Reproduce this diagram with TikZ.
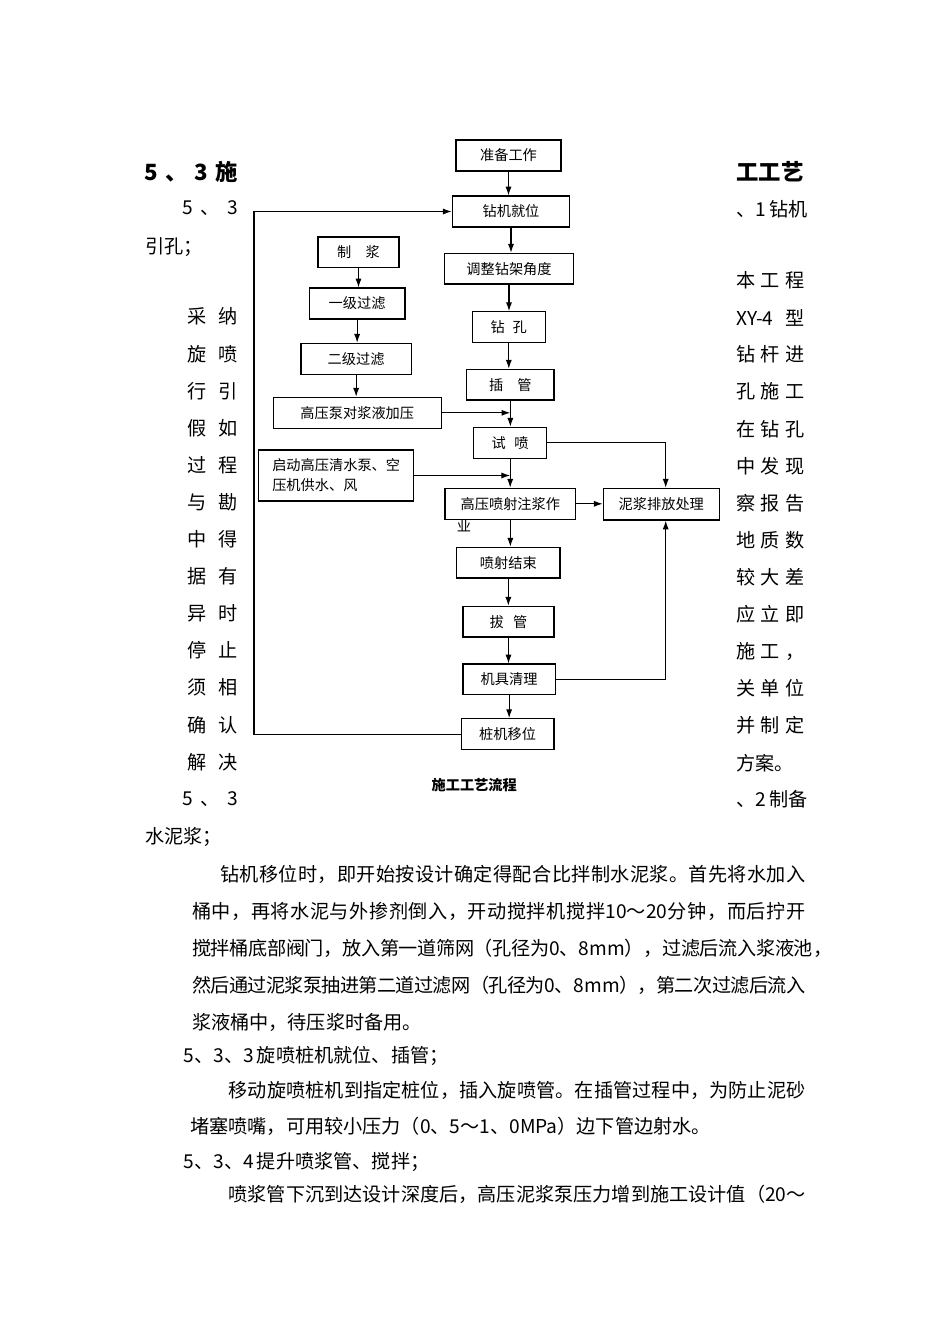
\documentclass[tikz,border=0pt]{standalone}
\usepackage{fontspec}
\setmainfont{Noto Sans CJK SC}
\usetikzlibrary{arrows.meta}
\newlength\pxu
\setlength\pxu{0.6266pt}
\newcommand\chglue{\hskip 0pt plus 1pt minus 0.6pt}
\ExplSyntaxOn
\NewDocumentCommand\jl{mm}{\makebox[#1\pxu][s]{\tl_map_inline:nn{#2}{##1\chglue}\unskip}}
\ExplSyntaxOff
\newcommand\twoc[2]{\makebox[50\pxu]{#1\hfill #2}}
\newcommand\thrc[3]{\makebox[68\pxu]{#1\hfill #2\hfill #3}}
% box: name, x1, y1, x2, y2
\newcommand\bx[5]{\node[box, minimum width={(#4-#2)*\pxu}, minimum height={(#5-#3)*\pxu}] (#1) at ({(#2+#4)/2},{(#3+#5)/2})}
\begin{document}
\begin{tikzpicture}[x=0.6266pt,y=-0.6266pt,
  box/.style={draw, line width=0.7pt, inner sep=0pt, font=\fontsize{8.9pt}{12.5pt}\selectfont},
  arr/.style={line width=0.7pt, -{Latex[length=5.5pt,width=3.8pt]}},
  body/.style={anchor=west, inner sep=0pt, font=\fontsize{12pt}{14pt}\selectfont},
  head/.style={anchor=west, inner sep=0pt, font=\fontsize{14pt}{16pt}\selectfont\bfseries},
  captext/.style={inner sep=0pt, font=\fontsize{8.9pt}{11pt}\selectfont\bfseries},
]
\useasboundingbox (0,0) rectangle (950,1344);
\fill[white] (0,0) rectangle (950,1344);

% ---------- flowchart boxes ----------
\bx{zb}{456}{140}{561}{171} {准备工作};
\bx{zj}{452.3}{196}{569.7}{227} {钻机就位};
\bx{zh}{318}{237}{399}{267.7} {制\hspace{1em}浆};
\bx{tz}{444.7}{253.3}{573.3}{284} {调整钻架角度};
\bx{yj}{309.3}{288}{405}{319} {一级过滤};
\bx{zk}{472.3}{311.7}{545.3}{342.7} {钻\hspace{0.55em}孔};
\bx{ej}{301}{343.3}{411.3}{374.3} {二级过滤};
\bx{cg}{466.7}{369.3}{554}{400} {插\hspace{1em}管};
\bx{gyb}{273.3}{397.3}{441.3}{428.3} {高压泵对浆液加压};
\bx{sp}{473.7}{427.3}{546.7}{458.3} {试\hspace{0.6em}喷};
\bx{qd}{258.7}{450}{413.7}{501} [align=left] {启动高压清水泵、空\\压机供水、风};
\bx{hp}{445}{488.3}{575.7}{519.3} {\raisebox{-2.5\pxu}{高压喷射注浆作}};
\node[inner sep=0pt, font=\fontsize{8.9pt}{12.5pt}\selectfont, anchor=west] (hpy) at (456.5,526) {业};
\bx{nj}{603.3}{488.3}{719.3}{520} {泥浆排放处理};
\bx{js}{456.7}{547.3}{560}{578} {喷射结束};
\bx{bg}{463}{606.3}{554}{637} {拔\hspace{0.65em}管};
\bx{jj}{463}{664}{555.3}{694.7} {机具清理};
\bx{zy}{461.3}{718.7}{554}{749.7} {桩机移位};
\node[captext] (caption) at (474.2,785) {施工工艺流程};

\coordinate (rx) at (665.7,0);
\coordinate (lx) at (254,0);

% ---------- connectors ----------
\draw[arr] (zb.south) -- (zb.south |- zj.north);
\draw[arr] (zj.south) -- (zj.south |- tz.north);
\draw[arr] (tz.south) -- (tz.south |- zk.north);
\draw[arr] (zk.south) -- (zk.south |- cg.north);
\draw[arr] (cg.south) -- (cg.south |- sp.north);
\draw[arr] (zh.south) -- (zh.south |- yj.north);
\draw[arr] (yj.south) -- (yj.south |- ej.north);
\draw[arr] (ej.south) -- (ej.south |- gyb.north);
\draw[arr] (gyb.east) -- (gyb.east -| cg.south);
\draw[arr] (sp.south) -- (sp.south |- hp.north);
\draw[arr] (qd.east) -- (qd.east -| sp.south);
\draw[arr] (sp.east) -| (rx |- nj.north);
\draw[arr] (hp.east) -- (hp.east -| nj.west);
\draw[arr] (hp.south) -- (hp.south |- js.north);
\draw[arr] (js.south) -- (js.south |- bg.north);
\draw[arr] (bg.south) -- (bg.south |- jj.north);
\draw[arr] (jj.south) -- (jj.south |- zy.north);
\draw[arr] (jj.east) -| (rx |- nj.south);
\draw[arr] (zy.west) -| (lx |- zj.west) -- (zj.west);

% ---------- page text: heading ----------
\node[head] (h1) at (144,171.7) {\makebox[94\pxu]{5\hfill 、\hfill 3\hfill 施}};
\node[head] (h2) at (736,171.7) {工工艺};

% ---------- left column ----------
\node[body] (a1) at (181.7,208.3) {\makebox[56.3\pxu]{5\hfill 、\hfill 3}};
\node[body] (a2) at (145,246.7) {引孔；};
\node[body] (p1) at (187.5,316.7) {\twoc{采}{纳}};
\node[body] (p2) at (187.5,353.8) {\twoc{旋}{喷}};
\node[body] (p3) at (187.5,390.9) {\twoc{行}{引}};
\node[body] (p4) at (187.5,428.0) {\twoc{假}{如}};
\node[body] (p5) at (187.5,465.1) {\twoc{过}{程}};
\node[body] (p6) at (187.5,502.2) {\twoc{与}{勘}};
\node[body] (p7) at (187.5,539.3) {\twoc{中}{得}};
\node[body] (p8) at (187.5,576.4) {\twoc{据}{有}};
\node[body] (p9) at (187.5,613.5) {\twoc{异}{时}};
\node[body] (p10) at (187.5,650.6) {\twoc{停}{止}};
\node[body] (p11) at (187.5,687.7) {\twoc{须}{相}};
\node[body] (p12) at (187.5,724.8) {\twoc{确}{认}};
\node[body] (p13) at (187.5,761.9) {\twoc{解}{决}};
\node[body] (a3) at (181.7,799) {\makebox[56.3\pxu]{5\hfill 、\hfill 3}};
\node[body] (a4) at (145,837) {水泥浆；};

% ---------- right column ----------
\node[body] (b1) at (736,209) {、1\,钻机};
\node[body] (q0) at (736,280.5) {\thrc{本}{工}{程}};
\node[body] (q1) at (736,317.5) {\makebox[68\pxu]{XY-4\hfill 型}};
\node[body] (q2) at (736,354.6) {\thrc{钻}{杆}{进}};
\node[body] (q3) at (736,391.7) {\thrc{孔}{施}{工}};
\node[body] (q4) at (736,428.8) {\thrc{在}{钻}{孔}};
\node[body] (q5) at (736,465.9) {\thrc{中}{发}{现}};
\node[body] (q6) at (736,503.0) {\thrc{察}{报}{告}};
\node[body] (q7) at (736,540.1) {\thrc{地}{质}{数}};
\node[body] (q8) at (736,577.2) {\thrc{较}{大}{差}};
\node[body] (q9) at (736,614.3) {\thrc{应}{立}{即}};
\node[body] (q10) at (736,651.4) {\thrc{施}{工}{，}};
\node[body] (q11) at (736,688.5) {\thrc{关}{单}{位}};
\node[body] (q12) at (736,725.6) {\thrc{并}{制}{定}};
\node[body] (q13) at (736,762.7) {方案。};
\node[body] (b2) at (736,799) {、2\,制备};

% ---------- body paragraphs ----------
\node[body] (l1) at (220,874) {\jl{585}{钻机移位时，即开始按设计确定得配合比拌制水泥浆。首先将水加入}};
\node[body] (l2) at (191.7,911) {\jl{613.3}{桶中，再将水泥与外掺剂倒入，开动搅拌机搅拌{10～20}分钟，而后拧开}};
\node[body] (l3) at (191.7,948) {\jl{621}{搅拌桶底部阀门，放入第一道筛网（孔径为{0、8mm}），过滤后流入浆液池}\rlap{，}};
\node[body] (l4) at (191.7,985) {\jl{613.3}{然后通过泥浆泵抽进第二道过滤网（孔径为{0、8mm}），第二次过滤后流入}};
\node[body] (l5) at (191.7,1022) {浆液桶中，待压浆时备用。};
\node[body] (l6) at (183.3,1055.5) {5、3、3\,旋喷桩机就位、插管；};
\node[body] (l7) at (228.3,1090.5) {\jl{577}{移动旋喷桩机到指定桩位，插入旋喷管。在插管过程中，为防止泥砂}};
\node[body] (l8) at (190,1126.5) {堵塞喷嘴，可用较小压力（0、5～1、0MPa）边下管边射水。};
\node[body] (l9) at (183.3,1161.5) {5、3、4\,提升喷浆管、搅拌；};
\node[body] (l10) at (228.3,1194) {\jl{577}{喷浆管下沉到达设计深度后，高压泥浆泵压力增到施工设计值（{20～}}};
\end{tikzpicture}
\end{document}
